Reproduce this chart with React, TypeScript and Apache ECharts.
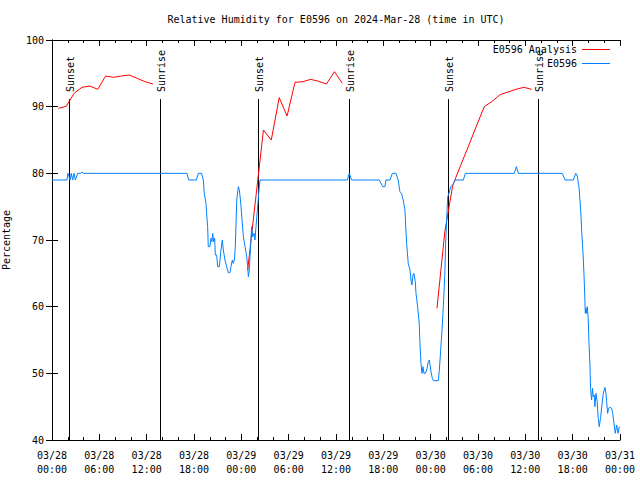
import React, { useEffect, useRef } from "react";
import * as echarts from "echarts";

const FONT = "'DejaVu Sans Mono', 'Liberation Mono', monospace";

const titleText = "Relative Humidity for E0596 on 2024-Mar-28 (time in UTC)";
const yAxisName = "Percentage";
const analysisName = "E0596 Analysis";
const obsName = "E0596";

// x positions are hours after 2024-03-28 00:00 UTC
const xTickLabels = [
  "03/28\n00:00", "03/28\n06:00", "03/28\n12:00", "03/28\n18:00",
  "03/29\n00:00", "03/29\n06:00", "03/29\n12:00", "03/29\n18:00",
  "03/30\n00:00", "03/30\n06:00", "03/30\n12:00", "03/30\n18:00",
  "03/31\n00:00",
];

const eventHours = [2.19, 13.73, 26.15, 37.65, 50.23, 61.64];
const eventNames = ["Sunset", "Sunrise", "Sunset", "Sunrise", "Sunset", "Sunrise"];

const analysisHours = [
  0.8, 1.8, 2.8, 3.8, 4.8, 5.8, 6.8, 7.8, 8.8, 9.8, 10.8, 11.8, 12.8,
  13.5,
  24.8, 25.8, 26.8, 27.8, 28.8, 29.8, 30.8, 31.8, 32.8, 33.8, 34.8, 35.8, 36.8,
  37.5,
  48.8, 49.8, 50.8, 51.8, 52.8, 53.8, 54.8, 55.8, 56.8, 57.8, 58.8, 59.8, 60.8,
];
const analysisValues: (number | null)[] = [
  89.75, 90.05, 92.0, 92.9, 93.1, 92.6, 94.6, 94.4, 94.6, 94.75, 94.25, 93.75, 93.4,
  null,
  65.5, 76.0, 86.5, 85.0, 91.35, 88.6, 93.65, 93.75, 94.1, 93.8, 93.4, 95.25, 93.5,
  null,
  59.75, 71.3, 78.2, 81.2, 84.1, 87.1, 90.0, 90.8, 91.8, 92.2, 92.6, 92.9, 92.6,
];

const obsHours = [
  0, 1.9, 2.03, 2.3, 2.44, 2.62, 2.79, 2.96, 3.25, 3.6, 3.8, 4.0,
  17.1, 17.33, 18.04, 18.3, 18.55, 18.97, 19.18, 19.3, 19.52, 19.6, 19.73, 19.81,
  20.02, 20.15, 20.28, 20.37, 20.49, 20.62, 20.7, 20.87, 21.0, 21.21, 21.29, 21.42,
  21.59, 21.71, 21.93, 22.14, 22.35, 22.56, 22.69, 22.86, 22.98, 23.11, 23.24, 23.42,
  23.62, 23.75, 23.93, 24.09, 24.26, 24.47, 24.68, 24.81, 24.89, 25.01, 25.1, 25.31,
  25.44, 25.61, 25.73, 25.86, 26.03, 26.2, 26.37,
  37.43, 37.68, 37.97, 41.49, 41.92, 42.2, 42.33, 42.84, 43.15, 43.6, 43.88, 44.1,
  44.3, 44.52, 44.74, 44.95, 45.16, 45.38, 45.5, 45.63, 45.76, 45.88, 46.05, 46.14,
  46.35, 46.55, 46.64, 46.77, 46.9, 47.02, 47.15, 47.32, 47.5, 47.7, 47.83, 47.92,
  48.04, 48.21, 48.34, 48.97, 49.1, 49.27, 49.44, 49.6, 49.78, 49.9, 50.03, 50.16,
  50.32, 50.54, 50.79, 51.12, 52.14, 52.4, 58.6, 58.86, 59.11, 64.68, 65.04, 66.08,
  66.4, 66.58, 66.8, 66.92, 67.05, 67.17, 67.3, 67.43, 67.55, 67.6, 67.68, 67.77,
  67.85, 67.97, 68.06, 68.19, 68.27, 68.4, 68.52, 68.61, 68.73, 68.82, 68.95, 69.11,
  69.24, 69.37, 69.55, 69.71, 69.88, 70.09, 70.22, 70.31, 70.43, 70.56, 70.73, 70.94,
  71.07, 71.24, 71.4, 71.58, 71.75, 71.92,
];
const obsValues = [
  79, 79, 80, 79, 80, 79, 80, 79, 80, 80, 80.2, 80,
  80, 79, 79, 79, 80, 80, 79, 77, 75.5, 74, 72, 69,
  69, 70.25, 69.75, 71, 69.75, 70.25, 67.75, 67.75, 66, 66, 67, 68.5,
  70, 68.5, 67, 66, 65.1, 65.1, 66, 67, 66.5, 67, 69, 76,
  78, 77.5, 75.5, 73, 70.5, 69, 67.5, 66, 64.5, 65.5, 67.5, 72,
  70.5, 71, 70, 72, 74.5, 77, 79,
  79, 80, 79, 79, 78, 78, 79, 79, 80, 80, 79, 77.25,
  77, 76, 74.5, 69.5, 66.5, 65.5, 64, 63.25, 64.75, 65, 63.75, 62,
  60, 57.5, 54.5, 51.5, 50, 51, 50, 50, 50.5, 51.75, 52, 51.25,
  50.25, 49.25, 48.9, 48.9, 50.5, 53.5, 56.5, 60, 64.5, 69.5, 73, 76.5,
  77, 78, 78.25, 79, 79, 80, 80, 81, 80, 80, 79, 79,
  80, 79.6, 78, 76, 73.75, 70.75, 68.25, 65, 61, 59, 59.75, 59,
  60, 58.25, 54.75, 51.25, 47.75, 46, 47.75, 46.5, 46.75, 45, 47, 45.75,
  43.25, 42, 43.5, 45.25, 47, 47.9, 47, 45.75, 44, 44.75, 44.9, 44.75,
  44, 42.5, 41, 42.25, 41, 42,
];

const Y_MIN = 40;
const Y_MAX = 100;
const EVENT_LINE_TOP = 91.15;
const EVENT_LABEL_START = 92.2;

export default function App() {
  const ref = useRef<HTMLDivElement>(null);

  useEffect(() => {
    if (!ref.current) return;
    const chart = echarts.init(ref.current, null, { renderer: "svg" });

    const analysisData = analysisHours.map((h, i) => [h, analysisValues[i]]);
    const obsData = obsHours.map((h, i) => [h, obsValues[i]]);
    const eventData = eventHours.map((h) => [h, Y_MIN]);

    const black = "#000000";
    const tickAxisCommon = {
      axisLine: { show: true, lineStyle: { color: black, width: 1 } },
      splitLine: { show: false },
    };

    chart.setOption({
      animation: false,
      backgroundColor: "#ffffff",
      title: {
        text: titleText,
        left: 336,
        top: 14,
        textAlign: "center",
        padding: 0,
        textStyle: { fontFamily: FONT, fontSize: 10, fontWeight: "normal", color: black },
      },
      legend: {
        data: [analysisName, obsName],
        orient: "vertical",
        align: "right",
        right: 30,
        top: 43,
        padding: 0,
        icon: "rect",
        itemWidth: 28,
        itemHeight: 1,
        itemGap: 1,
        textStyle: { fontFamily: FONT, fontSize: 10, color: black, lineHeight: 13 },
      },
      grid: {
        left: 52,
        right: 20,
        top: 40,
        bottom: 40,
        containLabel: false,
        outerBoundsMode: "none",
      },
      xAxis: [
        {
          type: "value",
          min: 0,
          max: 72,
          interval: 6,
          position: "bottom",
          ...tickAxisCommon,
          axisTick: { show: true, inside: true, length: 6, lineStyle: { color: black } },
          minorTick: { show: true, splitNumber: 3, length: 3, lineStyle: { color: black } },
          minorSplitLine: { show: false },
          axisLabel: {
            fontFamily: FONT,
            fontSize: 10,
            color: black,
            lineHeight: 14,
            margin: 8,
            showMaxLabel: true,
            showMinLabel: true,
            formatter: (v: number) => xTickLabels[Math.round(v / 6)] ?? "",
          },
        },
        {
          type: "value",
          min: 0,
          max: 72,
          interval: 6,
          position: "top",
          ...tickAxisCommon,
          axisTick: { show: true, inside: true, length: 6, lineStyle: { color: black } },
          minorTick: { show: true, splitNumber: 3, length: 3, lineStyle: { color: black } },
          minorSplitLine: { show: false },
          axisLabel: { show: false },
        },
      ],
      yAxis: [
        {
          type: "value",
          min: Y_MIN,
          max: Y_MAX,
          interval: 10,
          position: "left",
          ...tickAxisCommon,
          axisTick: { show: true, inside: true, length: 6, lineStyle: { color: black } },
          axisLabel: { fontFamily: FONT, fontSize: 10, color: black, margin: 8 },
          name: yAxisName,
          nameLocation: "middle",
          nameGap: 41,
          nameRotate: 90,
          nameTextStyle: { fontFamily: FONT, fontSize: 10, color: black },
        },
        {
          type: "value",
          min: Y_MIN,
          max: Y_MAX,
          interval: 10,
          position: "right",
          ...tickAxisCommon,
          axisTick: { show: true, inside: true, length: 6, lineStyle: { color: black } },
          axisLabel: { show: false },
        },
      ],
      series: [
        {
          type: "custom",
          name: "events",
          xAxisIndex: 0,
          yAxisIndex: 0,
          data: eventData,
          silent: true,
          renderItem: (params: any, api: any) => {
            const h = api.value(0);
            const p0 = api.coord([h, Y_MIN]);
            const p1 = api.coord([h, EVENT_LINE_TOP]);
            const pt = api.coord([h, EVENT_LABEL_START]);
            const x = Math.round(p0[0]) + 0.5;
            return {
              type: "group",
              children: [
                {
                  type: "line",
                  shape: { x1: x, y1: p0[1], x2: x, y2: p1[1] },
                  style: { stroke: black, lineWidth: 1 },
                },
                {
                  type: "text",
                  x: x + 1,
                  y: pt[1],
                  rotation: Math.PI / 2,
                  style: {
                    text: eventNames[params.dataIndex],
                    font: `10px ${FONT}`,
                    fill: black,
                    align: "left",
                    verticalAlign: "middle",
                  },
                },
              ],
            };
          },
        },
        {
          type: "line",
          name: analysisName,
          xAxisIndex: 0,
          yAxisIndex: 0,
          data: analysisData,
          showSymbol: false,
          connectNulls: false,
          color: "#ff0000",
          lineStyle: { color: "#ff0000", width: 1 },
        },
        {
          type: "line",
          name: obsName,
          xAxisIndex: 0,
          yAxisIndex: 0,
          data: obsData,
          showSymbol: false,
          color: "#0080ff",
          lineStyle: { color: "#0080ff", width: 1 },
        },
      ],
    });

    return () => chart.dispose();
  }, []);

  return (
    <div
      ref={ref}
      style={{ position: "fixed", left: 0, top: 0, width: 640, height: 480, background: "#fff" }}
    />
  );
}
